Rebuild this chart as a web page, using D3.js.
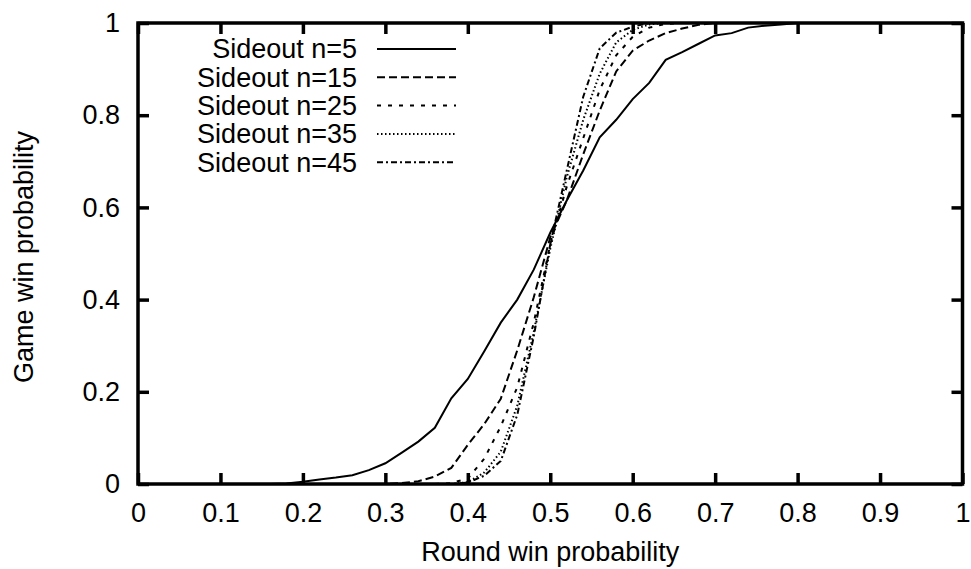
<!DOCTYPE html>
<head>
<meta charset="utf-8">
<title></title>
<style>
body { margin: 0; background: #fff; }
text { font-family: "Liberation Sans", Arial, Helvetica, sans-serif; fill: #000; }
.tick line { stroke: #000; stroke-width: 3.5px; }
.curve { fill: none; stroke: #000; stroke-width: 2px; }
</style>
</head>
<body>
<script src="https://cdn.jsdelivr.net/npm/d3@7/dist/d3.min.js"></script>
<script>

// round win probability grid (step 0.02)
var roundProb = d3.range(0, 51).map(function(i) { return +(i * 0.02).toFixed(2); });

// game win probability for each sideout length
var n5  = [0,0,0,0,0,0,0,0,0,0.001,0.005,0.01,0.014,0.019,0.03,0.045,0.068,0.092,0.122,0.186,
           0.228,0.288,0.35,0.40,0.465,0.545,0.615,0.68,0.752,0.79,0.835,0.87,0.92,0.937,0.955,0.973,
           0.978,0.99,0.994,0.997,1,1,1,1,1,1,1,1,1,1,1];
var n15 = [0,0,0,0,0,0,0,0,0,0,0,0,0,0,0,0,0.002,0.006,0.016,0.035,
           0.085,0.13,0.185,0.29,0.405,0.535,0.615,0.715,0.81,0.895,0.94,0.962,0.978,0.988,0.996,1,
           1,1,1,1,1,1,1,1,1,1,1,1,1,1,1];
var n25 = [0,0,0,0,0,0,0,0,0,0,0,0,0,0,0,0,0,0,0,0.002,
           0.012,0.055,0.125,0.21,0.35,0.52,0.645,0.75,0.855,0.93,0.97,0.99,0.998,1,1,1,
           1,1,1,1,1,1,1,1,1,1,1,1,1,1,1];
var n35 = [0,0,0,0,0,0,0,0,0,0,0,0,0,0,0,0,0,0,0,0,
           0.004,0.025,0.07,0.17,0.33,0.51,0.665,0.79,0.89,0.958,0.985,0.997,1,1,1,1,
           1,1,1,1,1,1,1,1,1,1,1,1,1,1,1];
var n45 = [0,0,0,0,0,0,0,0,0,0,0,0,0,0,0,0,0,0,0,0,
           0.003,0.018,0.05,0.15,0.32,0.52,0.68,0.84,0.945,0.979,0.992,1,1,1,1,1,
           1,1,1,1,1,1,1,1,1,1,1,1,1,1,1];

var seriesNames = ["Sideout n=5", "Sideout n=15", "Sideout n=25", "Sideout n=35", "Sideout n=45"];
var seriesValues = [n5, n15, n25, n35, n45];
var dashes = [null, "8,4", "4,7", "1.5,2.5", "6,3,2,3"];

var xTicks = [0, 0.1, 0.2, 0.3, 0.4, 0.5, 0.6, 0.7, 0.8, 0.9, 1];
var yTicks = [0, 0.2, 0.4, 0.6, 0.8, 1];

var width = 971, height = 569;
var mLeft = 138, mRight = 962.5, mTop = 23, mBottom = 484;

var svg = d3.select("body").append("svg")
    .attr("width", width)
    .attr("height", height);

var x = d3.scaleLinear().domain([0, 1]).range([mLeft, mRight]);
var y = d3.scaleLinear().domain([0, 1]).range([mBottom, mTop]);

var fmt = function(d) { return d === 0 || d === 1 ? String(d) : d3.format(".1f")(d); };

// axes, ticks pointing inward
svg.append("g")
    .attr("transform", "translate(0," + mBottom + ")")
    .call(d3.axisBottom(x).tickValues(xTicks).tickFormat(fmt).tickSizeInner(-11).tickSizeOuter(0).tickPadding(19))
    .call(function(g) { g.select(".domain").remove(); })
    .selectAll("text").style("font-size", "27px");

svg.append("g")
    .attr("transform", "translate(0," + mTop + ")")
    .call(d3.axisTop(x).tickValues(xTicks).tickFormat("").tickSizeInner(-11).tickSizeOuter(0))
    .call(function(g) { g.select(".domain").remove(); });

svg.append("g")
    .attr("transform", "translate(" + mLeft + ",0)")
    .call(d3.axisLeft(y).tickValues(yTicks).tickFormat(fmt).tickSizeInner(-11).tickSizeOuter(0).tickPadding(18))
    .call(function(g) { g.select(".domain").remove(); })
    .selectAll("text").style("font-size", "27px");

svg.append("g")
    .attr("transform", "translate(" + mRight + ",0)")
    .call(d3.axisRight(y).tickValues(yTicks).tickFormat("").tickSizeInner(-11).tickSizeOuter(0))
    .call(function(g) { g.select(".domain").remove(); });

// curves
var line = d3.line()
    .x(function(d) { return x(d[0]); })
    .y(function(d) { return y(d[1]); });

seriesValues.forEach(function(vals, i) {
  svg.append("path")
      .attr("class", "curve")
      .attr("d", line(roundProb.map(function(p, j) { return [p, vals[j]]; })))
      .style("stroke-dasharray", dashes[i]);
});

// frame
svg.append("rect")
    .attr("x", mLeft)
    .attr("y", mTop)
    .attr("width", mRight - mLeft)
    .attr("height", mBottom - mTop)
    .attr("fill", "none")
    .attr("stroke", "#000")
    .attr("stroke-width", 3.5);

// legend
var legend = svg.append("g").selectAll("g")
    .data(seriesNames)
    .enter().append("g")
    .attr("transform", function(d, i) { return "translate(0," + (49 + i * 28.3) + ")"; });

legend.append("text")
    .attr("x", 357)
    .attr("dy", "0.35em")
    .attr("text-anchor", "end")
    .style("font-size", "27px")
    .text(function(d) { return d; });

legend.append("line")
    .attr("class", "curve")
    .attr("x1", 377)
    .attr("x2", 456)
    .style("stroke-dasharray", function(d, i) { return dashes[i]; });

// axis titles
svg.append("text")
    .attr("x", (mLeft + mRight) / 2)
    .attr("y", 561)
    .attr("text-anchor", "middle")
    .style("font-size", "27px")
    .text("Round win probability");

svg.append("text")
    .attr("transform", "translate(33," + 257 + ") rotate(-90)")
    .attr("text-anchor", "middle")
    .style("font-size", "27px")
    .text("Game win probability");

</script>
</body>
</html>
